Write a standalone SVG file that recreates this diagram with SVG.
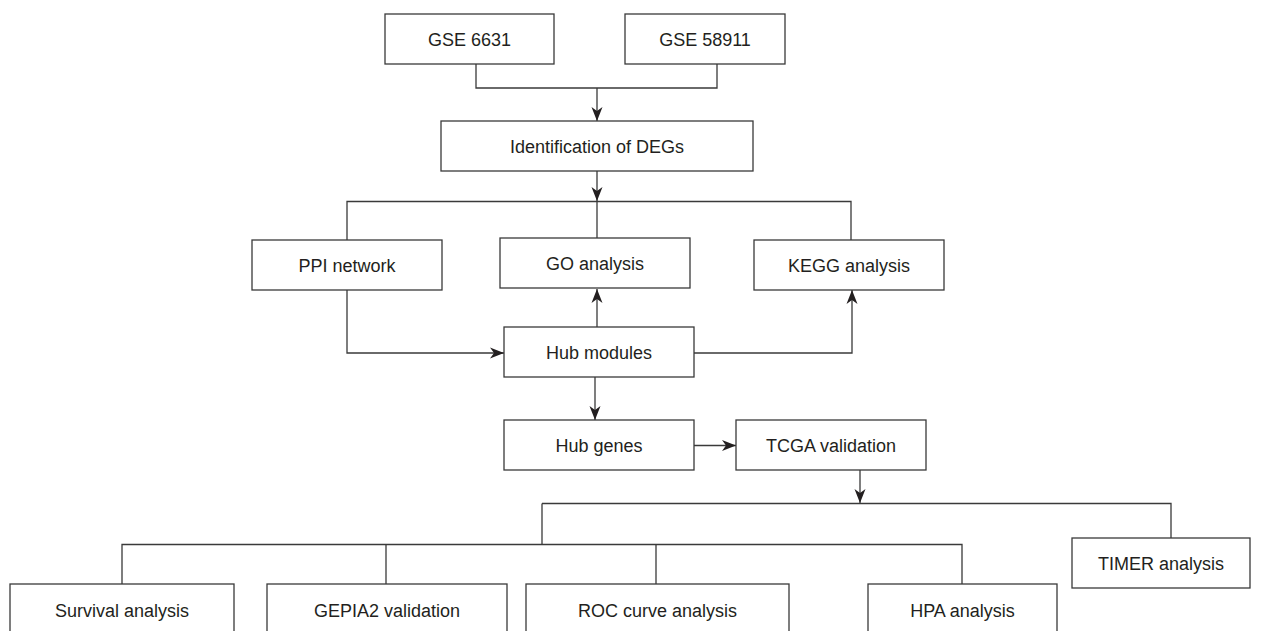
<svg xmlns="http://www.w3.org/2000/svg" width="1266" height="631" viewBox="0 0 1266 631">
<style>
.box{fill:#ffffff;stroke:#3a3a3a;stroke-width:1.3}
.lbl{font-family:"Liberation Sans",Arial,Helvetica,sans-serif;font-size:18px;fill:#231f20;text-anchor:middle}
.con{fill:none;stroke:#3a3a3a;stroke-width:1.3}
</style>
<defs>
<marker id="arr" markerUnits="userSpaceOnUse" markerWidth="16" markerHeight="12" viewBox="-15 -6 16 12" refX="0" refY="0" orient="auto">
<path d="M0,0 L-14,-5.5 L-10,0 L-14,5.5 Z" fill="#231f20"/>
</marker>
</defs>
<rect width="1266" height="631" fill="#ffffff"/>
<g id="connectors">
<path class="con" d="M476,64 V88 H717 V64"/>
<path class="con" d="M597,88 V121" marker-end="url(#arr)"/>
<path class="con" d="M597,171 V201" marker-end="url(#arr)"/>
<path class="con" d="M347,240 V201.5 H851 V240"/>
<path class="con" d="M597,201.5 V238"/>
<path class="con" d="M597,327 V289" marker-end="url(#arr)"/>
<path class="con" d="M347,290 V353 H504" marker-end="url(#arr)"/>
<path class="con" d="M694,353 H852 V290" marker-end="url(#arr)"/>
<path class="con" d="M595,377 V420" marker-end="url(#arr)"/>
<path class="con" d="M694,445.5 H736" marker-end="url(#arr)"/>
<path class="con" d="M860,470 V503" marker-end="url(#arr)"/>
<path class="con" d="M542,503.5 H1171 V538"/>
<path class="con" d="M542,503.5 V544.5"/>
<path class="con" d="M122,584 V544.5 H962 V584"/>
<path class="con" d="M386,544.5 V584"/>
<path class="con" d="M656,544.5 V584"/>
</g>
<g id="gse6631"><rect class="box" x="385" y="14" width="169" height="50"/><text class="lbl" x="469.5" y="45.5">GSE 6631</text></g>
<g id="gse58911"><rect class="box" x="625" y="14" width="160" height="50"/><text class="lbl" x="705" y="45.5">GSE 58911</text></g>
<g id="degs"><rect class="box" x="441" y="121" width="312" height="50"/><text class="lbl" x="597" y="152.5">Identification of DEGs</text></g>
<g id="ppi"><rect class="box" x="252" y="240" width="190" height="50"/><text class="lbl" x="347" y="271.5">PPI network</text></g>
<g id="go"><rect class="box" x="500" y="238" width="190" height="50"/><text class="lbl" x="595" y="269.5">GO analysis</text></g>
<g id="kegg"><rect class="box" x="754" y="240" width="190" height="50"/><text class="lbl" x="849" y="271.5">KEGG analysis</text></g>
<g id="hubmodules"><rect class="box" x="504" y="327" width="190" height="50"/><text class="lbl" x="599" y="358.5">Hub modules</text></g>
<g id="hubgenes"><rect class="box" x="504" y="420" width="190" height="50"/><text class="lbl" x="599" y="451.5">Hub genes</text></g>
<g id="tcga"><rect class="box" x="736" y="420" width="190" height="50"/><text class="lbl" x="831" y="451.5">TCGA validation</text></g>
<g id="timer"><rect class="box" x="1072" y="538" width="178" height="50"/><text class="lbl" x="1161" y="570">TIMER analysis</text></g>
<g id="survival"><rect class="box" x="10" y="584" width="224" height="60"/><text class="lbl" x="122" y="617">Survival analysis</text></g>
<g id="gepia2"><rect class="box" x="267" y="584" width="240" height="60"/><text class="lbl" x="387" y="617">GEPIA2 validation</text></g>
<g id="roc"><rect class="box" x="526" y="584" width="263" height="60"/><text class="lbl" x="657.5" y="617">ROC curve analysis</text></g>
<g id="hpa"><rect class="box" x="868" y="584" width="189" height="60"/><text class="lbl" x="962.5" y="617">HPA analysis</text></g>
</svg>
